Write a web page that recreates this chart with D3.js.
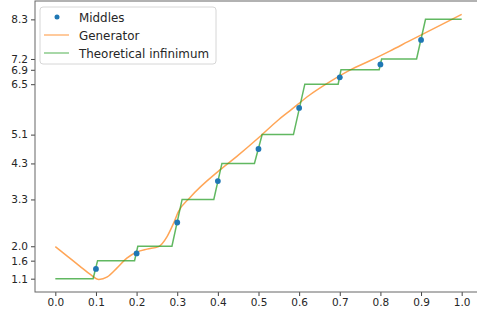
<!DOCTYPE html>
<html lang="en">

<head>
  <meta charset="UTF-8">
  <title>Middles vs generator</title>
  <script src="https://d3js.org/d3.v7.min.js"></script>
  <style>
    body { margin: 0; background: #fff; }
    text { font-family: "DejaVu Sans", sans-serif; }
  </style>
</head>

<body>
  <svg id="chart" width="477" height="312"></svg>
  <script>
    // x ticks and y ticks (y ticks are the step levels)
    let xTicks = [0.0, 0.1, 0.2, 0.3, 0.4, 0.5, 0.6, 0.7, 0.8, 0.9, 1.0];
    let yTicks = [1.1, 1.6, 2.0, 3.3, 4.3, 5.1, 6.5, 6.9, 7.2, 8.3];

    // blue dots
    let middlesX = [0.1, 0.2, 0.3, 0.4, 0.5, 0.6, 0.7, 0.8, 0.9];
    let middlesY = [1.37, 1.80, 2.66, 3.81, 4.70, 5.84, 6.69, 7.05, 7.73];

    // orange curve
    let generatorX = [0.0, 0.03, 0.06, 0.087, 0.107, 0.128, 0.152, 0.176, 0.201, 0.226, 0.254,
      0.275, 0.291, 0.303, 0.331, 0.405, 0.446, 0.503, 0.548, 0.577, 0.626, 0.676, 0.725,
      0.774, 0.823, 0.868, 1.0];
    let generatorY = [1.99, 1.72, 1.45, 1.21, 1.08, 1.15, 1.40, 1.67, 1.84, 1.92, 1.99,
      2.27, 2.64, 2.96, 3.35, 4.12, 4.49, 5.04, 5.50, 5.76, 6.20, 6.57, 6.89,
      7.15, 7.42, 7.68, 8.44];

    // green step line
    let infimumX = [0.0, 0.093, 0.104, 0.195, 0.203, 0.287, 0.312, 0.39, 0.41, 0.49, 0.509,
      0.586, 0.614, 0.696, 0.703, 0.797, 0.803, 0.889, 0.911, 1.0];
    let infimumY = [1.1, 1.1, 1.6, 1.6, 2.0, 2.0, 3.3, 3.3, 4.3, 4.3, 5.1,
      5.1, 6.5, 6.5, 6.9, 6.9, 7.2, 7.2, 8.3, 8.3];

    let blue = '#1f77b4', orange = '#ff7f0e', green = '#2ca02c';

    let plotLeft = 35, plotRight = 482, plotTop = 1, plotBottom = 292;

    let x = d3.scaleLinear().domain([-0.05, 1.05]).range([plotLeft, plotRight]);
    let y = d3.scaleLinear().domain([0.73, 8.81]).range([plotBottom, plotTop]);

    let svg = d3.select('#chart');

    function zip(xs, ys) {
      return xs.map(function (d, i) { return [d, ys[i]]; });
    }

    function drawAxes() {
      let axisX = d3.axisBottom(x).tickValues(xTicks).tickSize(4).tickPadding(3)
        .tickFormat(d3.format('.1f'));
      let axisY = d3.axisLeft(y).tickValues(yTicks).tickSize(4).tickPadding(3)
        .tickFormat(d3.format('.1f'));

      let gx = svg.append('g').attr('transform', 'translate(0,' + plotBottom + ')').call(axisX);
      let gy = svg.append('g').attr('transform', 'translate(' + plotLeft + ',0)').call(axisY);

      [gx, gy].forEach(function (g) {
        g.select('.domain').remove();
        g.selectAll('line').attr('stroke', '#444');
        g.selectAll('text').attr('fill', '#262626').style('font-size', '10.5px');
      });

      // frame
      svg.append('rect')
        .attr('x', plotLeft).attr('y', plotTop)
        .attr('width', plotRight - plotLeft).attr('height', plotBottom - plotTop)
        .attr('fill', 'none').attr('stroke', '#666').attr('stroke-width', 1);
    }

    function drawLines() {
      let line = d3.line()
        .x(function (d) { return x(d[0]); })
        .y(function (d) { return y(d[1]); });

      svg.append('path')
        .datum(zip(generatorX, generatorY))
        .attr('d', line.curve(d3.curveMonotoneX))
        .attr('fill', 'none').attr('stroke', orange)
        .attr('stroke-width', 1.5).attr('stroke-opacity', 0.7);

      svg.append('path')
        .datum(zip(infimumX, infimumY))
        .attr('d', line.curve(d3.curveLinear))
        .attr('fill', 'none').attr('stroke', green)
        .attr('stroke-width', 1.5).attr('stroke-opacity', 0.75);

      svg.append('g')
        .selectAll('circle')
        .data(zip(middlesX, middlesY))
        .join('circle')
        .attr('cx', function (d) { return x(d[0]); })
        .attr('cy', function (d) { return y(d[1]); })
        .attr('r', 2.9)
        .attr('fill', blue);
    }

    function drawLegend() {
      let g = svg.append('g').attr('transform', 'translate(40,7)');
      g.append('rect')
        .attr('width', 176).attr('height', 57).attr('rx', 3)
        .attr('fill', 'white').attr('fill-opacity', 0.8)
        .attr('stroke', '#d6d6d6');

      let items = [
        { label: 'Middles', type: 'dot', color: blue },
        { label: 'Generator', type: 'line', color: orange },
        { label: 'Theoretical infinimum', type: 'line', color: green }
      ];

      items.forEach(function (d, i) {
        let cy = 10 + i * 18;
        if (d.type === 'dot') {
          g.append('circle').attr('cx', 17).attr('cy', cy).attr('r', 2.5).attr('fill', d.color);
        } else {
          g.append('line').attr('x1', 4).attr('x2', 29).attr('y1', cy).attr('y2', cy)
            .attr('stroke', d.color).attr('stroke-width', 1.5).attr('stroke-opacity', 0.55);
        }
        g.append('text')
          .attr('x', 39).attr('y', cy + 4.5)
          .attr('fill', '#262626')
          .style('font-size', '11.9px')
          .text(d.label);
      });
    }

    drawAxes();
    drawLines();
    drawLegend();
  </script>
</body>

</html>
